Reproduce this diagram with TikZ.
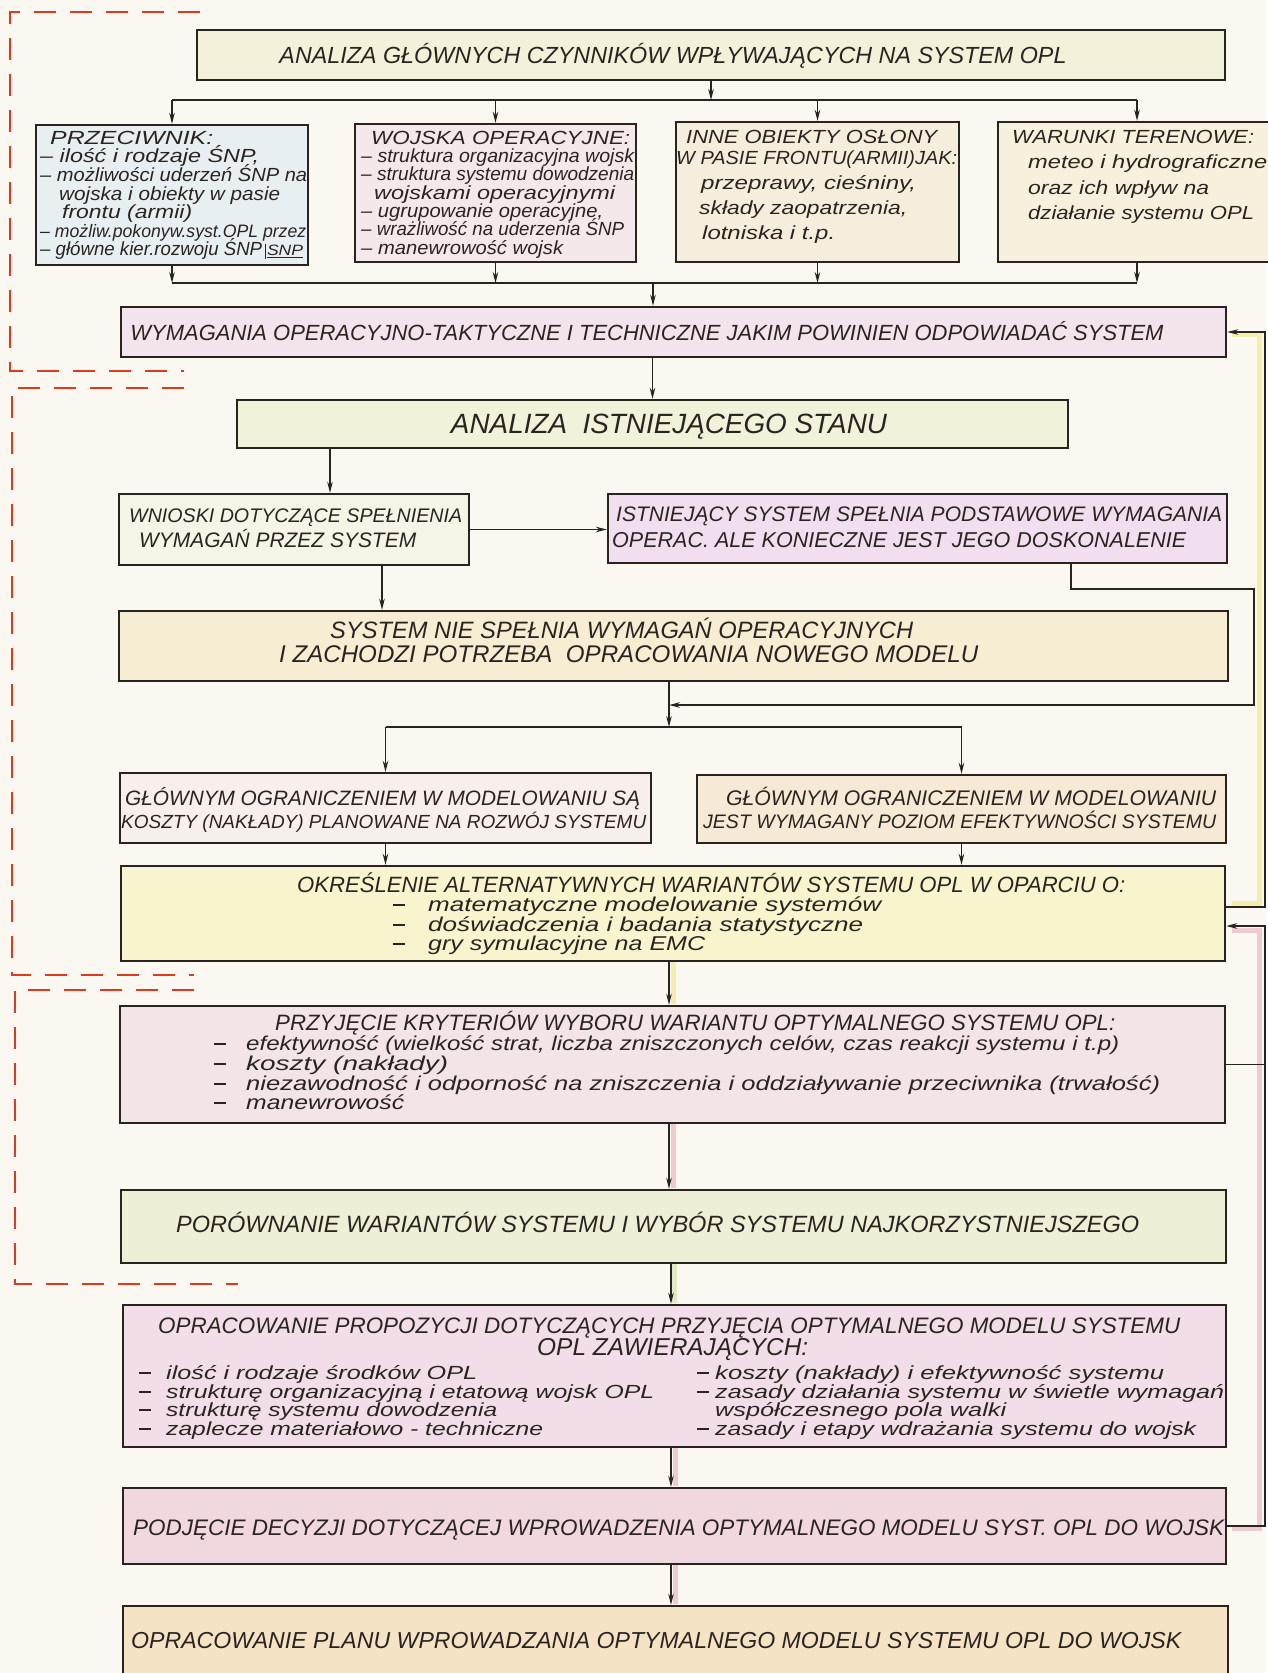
\documentclass[tikz,border=0pt]{standalone}
\usepackage{graphicx}
\usepackage{fontspec}
\setmainfont{Liberation Sans}
\usetikzlibrary{arrows.meta,fit}
\definecolor{paper}{HTML}{FAF8F0}
\definecolor{ink}{HTML}{2A2420}
\definecolor{redd}{HTML}{E2381E}
\definecolor{cTop}{HTML}{F4F1DA}
\definecolor{cB1}{HTML}{E8EFF3}
\definecolor{cB2}{HTML}{F5E8EA}
\definecolor{cB3}{HTML}{F6EEDC}
\definecolor{cB4}{HTML}{F7F0DC}
\definecolor{cWym}{HTML}{F3E3EC}
\definecolor{cAna}{HTML}{F2F1DA}
\definecolor{cWn}{HTML}{F6F4E6}
\definecolor{cIst}{HTML}{F1DFEF}
\definecolor{cSys}{HTML}{F6EDD3}
\definecolor{cG1}{HTML}{F6EFEC}
\definecolor{cG2}{HTML}{F6EAD6}
\definecolor{cOkr}{HTML}{F8F5CE}
\definecolor{cPrz}{HTML}{F3E5E6}
\definecolor{cPor}{HTML}{EEEFD6}
\definecolor{cOpr}{HTML}{F2DEE8}
\definecolor{cPod}{HTML}{F1D8DE}
\definecolor{cPla}{HTML}{F5E3C6}
\definecolor{hlY}{HTML}{F2EA8A}
\definecolor{hlP}{HTML}{EBB9C0}
\definecolor{hlG}{HTML}{D9E3B0}
\newcommand\fw[2]{\resizebox{#1pt}{!}{#2}}
\newcommand\fh[3]{\resizebox{#1pt}{\height}{\fontsize{#2}{#2}\selectfont #3}}
\newcommand\sfh[3]{\smash{\fh{#1}{#2}{#3}}}
\newcommand\dl[4]{\makebox[#1pt][l]{\rule[5pt]{12pt}{1.6pt}}\fh{#2}{#3}{#4}}
\tikzset{
  box/.style={draw=ink, line width=2.4pt, inner sep=0pt},
  lt/.style={inner sep=0pt, font=\itshape\fontsize{20}{24}\selectfont, text=ink},
  ln/.style={draw=ink, line width=1.5pt},
  arr/.style={draw=ink, line width=1.5pt, -{Stealth[length=11pt,width=5.5pt]}},
  rdash/.style={draw=redd, line width=2pt, dash pattern=on 22pt off 14pt},
  hl/.style={line width=5pt, opacity=0.7}
}
\begin{document}
\begin{tikzpicture}[x=1pt,y=-1pt]
\useasboundingbox (0,0) rectangle (1267,1673);
\fill[paper] (0,0) rectangle (1267,1673);

% pencil highlights
\draw[hl, draw=hlY] (1232,903) -- (1259,903) -- (1259,334) -- (1232,334);
\draw[hl, draw=hlP] (1232,930) -- (1259,930) -- (1259,1528) -- (1232,1528);
\draw[hl, draw=hlY] (673,962) -- (673,1004);
\draw[hl, draw=hlP] (673,1124) -- (673,1188);
\draw[hl, draw=hlG] (674,1264) -- (674,1303);
\draw[hl, draw=hlP] (675,1448) -- (675,1486);
\draw[hl, draw=hlP] (675,1565) -- (675,1604);

% boxes
\node[box, fill=cTop, fit={(197,30)(1225,80)}] (top) {};
\node[box, fill=cB1, fit={(36,125)(308,265)}] (b1) {};
\node[box, fill=cB2, fit={(355,124)(636,262)}] (b2) {};
\node[box, fill=cB3, fit={(676,122)(959,262)}] (b3) {};
\node[box, fill=cB4, fit={(998,122)(1276,262)}] (b4) {};
\node[box, fill=cWym, fit={(121,307)(1226,357)}] (wym) {};
\node[box, fill=cAna, fit={(237,400)(1068,448)}] (ana) {};
\node[box, fill=cWn, fit={(119,494)(469,565)}] (wn) {};
\node[box, fill=cIst, fit={(608,494)(1227,563)}] (ist) {};
\node[box, fill=cSys, fit={(119,611)(1228,681)}] (sys) {};
\node[box, fill=cG1, fit={(120,773)(651,843)}] (g1) {};
\node[box, fill=cG2, fit={(697,775)(1226,843)}] (g2) {};
\node[box, fill=cOkr, fit={(121,866)(1225,961)}] (okr) {};
\node[box, fill=cPrz, fit={(120,1006)(1225,1123)}] (prz) {};
\node[box, fill=cPor, fit={(121,1190)(1226,1263)}] (por) {};
\node[box, fill=cOpr, fit={(123,1305)(1226,1447)}] (opr) {};
\node[box, fill=cPod, fit={(123,1488)(1226,1564)}] (pod) {};
\node[box, fill=cPla, fit={(123,1606)(1228,1700)}] (pla) {};

% helper coordinates
\coordinate (d0) at (711,100);
\coordinate (c0) at (653,283);
\coordinate (v330) at (330,0);
\coordinate (v382) at (382,0);
\coordinate (v669) at (669,0);
\coordinate (v671) at (671,0);
\coordinate (v1071) at (1071,0);
\coordinate (r1) at (1254,589);
\coordinate (r2) at (1254,705);
\coordinate (j1) at (669,705);
\coordinate (j2) at (669,727);
\coordinate (R) at (1265,0);
\coordinate (y1) at (0,907);
\coordinate (y2) at (0,926);

% connectors: top distribution
\draw[arr] (top.south) -- (d0);
\draw[ln] (b1.north |- d0) -- (b4.north |- d0);
\foreach \b in {b1,b2,b3,b4} \draw[arr] (\b.north |- d0) -- (\b.north);
\foreach \b in {b1,b2,b3,b4} \draw[arr] (\b.south) -- (\b.south |- c0);
\draw[ln] (b1.south |- c0) -- (b4.south |- c0);
\draw[arr] (c0) -- (c0 |- wym.north);
\draw[arr] (wym.south -| ana.north) -- (ana.north);
\draw[arr] (v330 |- ana.south) -- (v330 |- wn.north);
\draw[arr] (wn.east) -- (wn.east -| ist.west);
\draw[arr] (v382 |- wn.south) -- (v382 |- sys.north);
\draw[arr] (v1071 |- ist.south) -- (v1071 |- r1) -- (r1) -- (r2) -- (j1);
\draw[arr] (v669 |- sys.south) -- (j2);
\draw[ln] (g1.north |- j2) -- (g2.north |- j2);
\draw[arr] (g1.north |- j2) -- (g1.north);
\draw[arr] (g2.north |- j2) -- (g2.north);
\draw[arr] (g1.south) -- (g1.south |- okr.north);
\draw[arr] (g2.south) -- (g2.south |- okr.north);
\draw[arr] (v669 |- okr.south) -- (v669 |- prz.north);
\draw[arr] (v669 |- prz.south) -- (v669 |- por.north);
\draw[arr] (v671 |- por.south) -- (v671 |- opr.north);
\draw[arr] (v671 |- opr.south) -- (v671 |- pod.north);
\draw[arr] (v671 |- pod.south) -- (v671 |- pla.north);
% feedback on the right
\draw[arr] (okr.east |- y1) -- (R |- y1) -- (R |- wym.east) -- (wym.east);
\draw[arr] (pod.east) -- (R |- pod.east) -- (R |- y2) -- (okr.east |- y2);
\draw[ln] (prz.east) -- (R |- prz.east);

% red dashed frames
\draw[rdash] (200,12) -- (10,12) -- (10,371) -- (184,371);
\draw[rdash] (184,388) -- (12,388) -- (12,975) -- (194,975);
\draw[rdash] (194,990) -- (15,990) -- (15,1284) -- (238,1284);

% texts of the four upper boxes
\node[lt, anchor=north west] (tb1) at (40,131) {\fontsize{19}{18.6}\selectfont\begin{tabular}{@{}l@{}}
\hspace*{10pt}\sfh{163}{19}{PRZECIWNIK:}\\
\sfh{219}{19}{– ilość i rodzaje ŚNP,}\\
\sfh{267}{19}{– możliwości uderzeń ŚNP na}\\
\hspace*{19pt}\sfh{221}{19}{wojska i obiekty w pasie}\\
\hspace*{22pt}\sfh{130}{19}{frontu (armii)}\\
\sfh{266}{18}{– możliw.pokonyw.syst.OPL przez}\\
\sfh{222}{19}{– główne kier.rozwoju ŚNP}\kern3pt\vrule height 12pt depth 3pt width 0.8pt\kern1pt$\underline{\hbox{\fh{36}{15}{SNP}}}$
\end{tabular}};
\node[lt, anchor=north west] (tb2) at (361,131.2) {\fontsize{19}{18.3}\selectfont\begin{tabular}{@{}l@{}}
\hspace*{10pt}\sfh{259}{19}{WOJSKA OPERACYJNE:}\\
\sfh{273}{19}{– struktura organizacyjna wojsk}\\
\sfh{273}{19}{– struktura systemu dowodzenia}\\
\hspace*{13pt}\sfh{241}{19}{wojskami operacyjnymi}\\
\sfh{242}{19}{– ugrupowanie operacyjne,}\\
\sfh{263}{19}{– wrażliwość na uderzenia ŚNP}\\
\sfh{202}{19}{– manewrowość wojsk}
\end{tabular}};
\node[lt, anchor=north west] (tb3) at (676,128.3) {\fontsize{19}{21}\selectfont\begin{tabular}{@{}l@{}}
\hspace*{10pt}\sfh{251}{19}{INNE OBIEKTY OSŁONY}\\
\sfh{281}{19}{W PASIE FRONTU(ARMII)JAK:}\\[4pt]
\hspace*{25pt}\sfh{215}{19}{przeprawy, cieśniny,}\\[4pt]
\hspace*{23pt}\sfh{208}{19}{składy zaopatrzenia,}\\[4pt]
\hspace*{26pt}\sfh{133}{19}{lotniska i t.p.}
\end{tabular}};
\node[lt, anchor=north west] (tb4) at (1012,125.2) {\fontsize{19}{25.5}\selectfont\begin{tabular}{@{}l@{}}
\sfh{242}{19}{WARUNKI TERENOWE:}\\
\hspace*{16pt}\sfh{239}{19}{meteo i hydrograficzne}\\
\hspace*{16pt}\sfh{181}{19}{oraz ich wpływ na}\\
\hspace*{16pt}\sfh{226}{19}{działanie systemu OPL}
\end{tabular}};

% single texts
\node[lt, anchor=base] (t0) at (673,63) {\fw{787}{ANALIZA GŁÓWNYCH CZYNNIKÓW WPŁYWAJĄCYCH NA SYSTEM OPL}};
\node[lt, anchor=base] (t6) at (647,340) {\fw{1033}{WYMAGANIA OPERACYJNO-TAKTYCZNE I TECHNICZNE JAKIM POWINIEN ODPOWIADAĆ SYSTEM}};
\node[lt, anchor=base] (t7) at (669,433) {\fw{436}{ANALIZA\ \ ISTNIEJĄCEGO STANU}};
\node[lt, anchor=base west] (t8a) at (129,522) {\fw{333}{WNIOSKI DOTYCZĄCE SPEŁNIENIA}};
\node[lt, anchor=base west] (t8b) at (139,547) {\fw{277}{WYMAGAŃ PRZEZ SYSTEM}};
\node[lt, anchor=base west] (t9a) at (616,521) {\fw{606}{ISTNIEJĄCY SYSTEM SPEŁNIA PODSTAWOWE WYMAGANIA}};
\node[lt, anchor=base west] (t9b) at (612,547) {\fw{574}{OPERAC. ALE KONIECZNE JEST JEGO DOSKONALENIE}};
\node[lt, anchor=base west] (t10a) at (330,638) {\fw{583}{SYSTEM NIE SPEŁNIA WYMAGAŃ OPERACYJNYCH}};
\node[lt, anchor=base west] (t10b) at (279,662) {\fw{699}{I ZACHODZI POTRZEBA\ \ OPRACOWANIA NOWEGO MODELU}};
\node[lt, anchor=base west] (t11a) at (125,805) {\fw{515}{GŁÓWNYM OGRANICZENIEM W MODELOWANIU SĄ}};
\node[lt, anchor=base west] (t11b) at (121,828) {\fw{525}{KOSZTY (NAKŁADY) PLANOWANE NA ROZWÓJ SYSTEMU}};
\node[lt, anchor=base west] (t12a) at (726,805) {\fw{490}{GŁÓWNYM OGRANICZENIEM W MODELOWANIU}};
\node[lt, anchor=base west] (t12b) at (703,828) {\fw{513}{JEST WYMAGANY POZIOM EFEKTYWNOŚCI SYSTEMU}};
\node[lt, anchor=base west] (t13) at (297,892) {\fw{828}{OKREŚLENIE ALTERNATYWNYCH WARIANTÓW SYSTEMU OPL W OPARCIU O:}};
\node[lt, anchor=base west] (t13a) at (393,911) {\dl{35}{453}{20}{matematyczne modelowanie systemów}};
\node[lt, anchor=base west] (t13b) at (393,931) {\dl{35}{435}{20}{doświadczenia i badania statystyczne}};
\node[lt, anchor=base west] (t13c) at (393,950) {\dl{35}{277}{20}{gry symulacyjne na EMC}};
\node[lt, anchor=base west] (t14) at (275,1030) {\fw{840}{PRZYJĘCIE KRYTERIÓW WYBORU WARIANTU OPTYMALNEGO SYSTEMU OPL:}};
\node[lt, anchor=base west] (t14a) at (214,1050) {\dl{32}{873}{20}{efektywność (wielkość strat, liczba zniszczonych celów, czas reakcji systemu i t.p)}};
\node[lt, anchor=base west] (t14b) at (214,1070) {\dl{32}{202}{20}{koszty (nakłady)}};
\node[lt, anchor=base west] (t14c) at (214,1090) {\dl{32}{914}{20}{niezawodność i odporność na zniszczenia i oddziaływanie przeciwnika (trwałość)}};
\node[lt, anchor=base west] (t14d) at (214,1109) {\dl{32}{158}{20}{manewrowość}};
\node[lt, anchor=base west] (t15) at (176,1232) {\fw{963}{PORÓWNANIE WARIANTÓW SYSTEMU I WYBÓR SYSTEMU NAJKORZYSTNIEJSZEGO}};
\node[lt, anchor=base west] (t16a) at (158,1333) {\fw{1022}{OPRACOWANIE PROPOZYCJI DOTYCZĄCYCH PRZYJĘCIA OPTYMALNEGO MODELU SYSTEMU}};
\node[lt, anchor=base west] (t16b) at (537,1355) {\fw{271}{OPL ZAWIERAJĄCYCH:}};
\node[lt, anchor=base west] (t16c) at (139,1379) {\dl{27}{311}{19}{ilość i rodzaje środków OPL}};
\node[lt, anchor=base west] (t16d) at (139,1398) {\dl{27}{488}{19}{strukturę organizacyjną i etatową wojsk OPL}};
\node[lt, anchor=base west] (t16e) at (139,1416) {\dl{27}{331}{19}{strukturę systemu dowodzenia}};
\node[lt, anchor=base west] (t16f) at (139,1435) {\dl{27}{377}{19}{zaplecze materiałowo - techniczne}};
\node[lt, anchor=base west] (t16g) at (697,1379) {\dl{18}{449}{19}{koszty (nakłady) i efektywność systemu}};
\node[lt, anchor=base west] (t16h) at (697,1398) {\dl{18}{509}{19}{zasady działania systemu w świetle wymagań}};
\node[lt, anchor=base west] (t16i) at (715,1416) {\fh{291}{19}{współczesnego pola walki}};
\node[lt, anchor=base west] (t16j) at (697,1435) {\dl{18}{481}{19}{zasady i etapy wdrażania systemu do wojsk}};
\node[lt, anchor=base west] (t17) at (133,1535) {\fw{1091}{PODJĘCIE DECYZJI DOTYCZĄCEJ WPROWADZENIA OPTYMALNEGO MODELU SYST. OPL DO WOJSK}};
\node[lt, anchor=base west] (t18) at (131,1648) {\fw{1050}{OPRACOWANIE PLANU WPROWADZANIA OPTYMALNEGO MODELU SYSTEMU OPL DO WOJSK}};
\end{tikzpicture}
\end{document}
